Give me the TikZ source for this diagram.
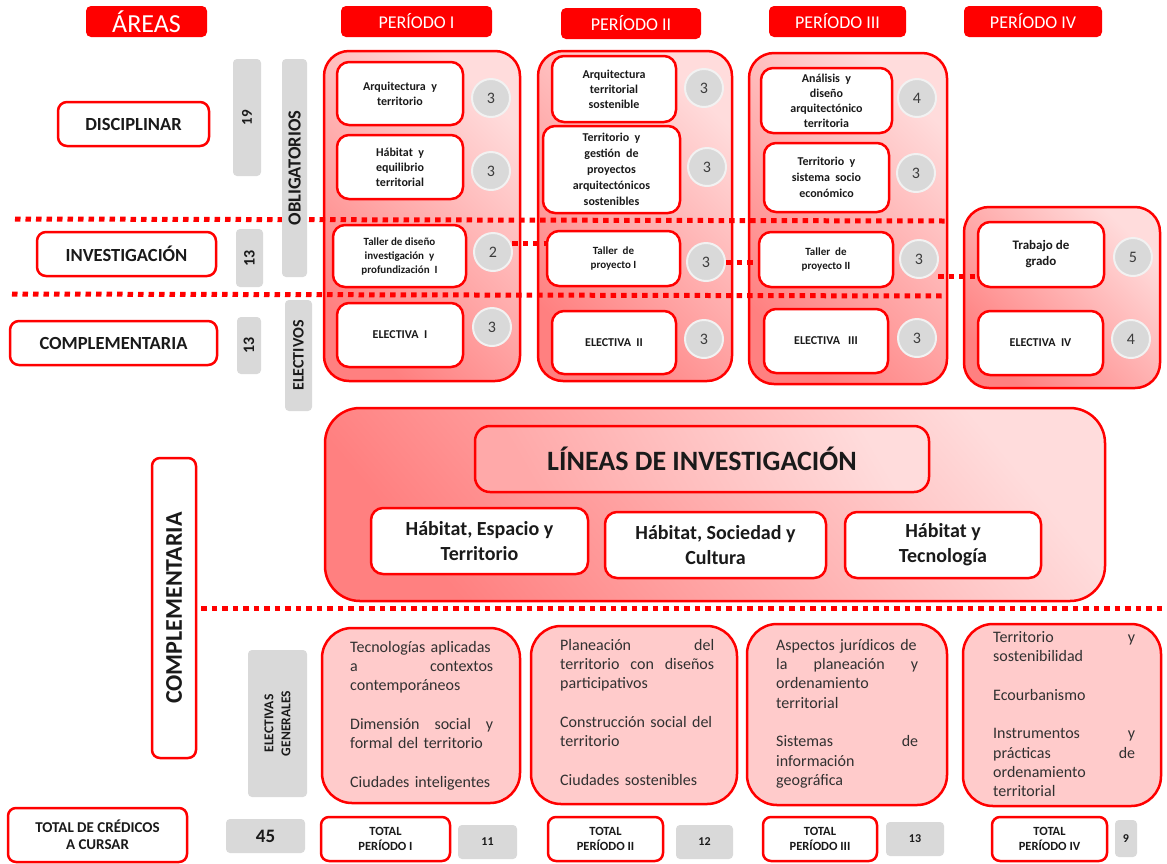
\documentclass[tikz,border=0pt]{standalone}
\usepackage{fontspec}
\setmainfont{Carlito}
\newcommand{\myfs}[2]{\fontsize{#1}{#2}\selectfont}
\definecolor{rd}{HTML}{FF0000}
\definecolor{gr}{HTML}{D9D9D9}
\definecolor{pkd}{HTML}{FF8080}
\definecolor{pkl}{HTML}{FFDCDC}
\definecolor{pkb}{HTML}{FFCBCB}
\definecolor{ink}{HTML}{1A1A1A}
\definecolor{ring}{HTML}{F2F2F2}
\tikzset{
  hdr/.style={fill=rd, rounded corners=5pt, text=white, inner sep=0pt, font=\myfs{18}{21}},
  lbl/.style={draw=rd, line width=2.5pt, fill=white, rounded corners=9pt, inner sep=0pt, text=ink, font=\bfseries\myfs{18.5}{22}},
  bar/.style={fill=gr, rounded corners=4pt, inner sep=0pt, text=ink, font=\bfseries\myfs{16}{19}},
  cont/.style={draw=rd, line width=2.5pt, rounded corners=25pt, left color=pkd, right color=pkl, shading angle=135},
  ibox/.style={draw=rd, line width=2.5pt, fill=white, rounded corners=12pt, align=center, inner sep=0pt, text=ink, font=\bfseries\myfs{12}{15}},
  num/.style={circle, fill=gr, draw=ring, line width=2pt, minimum size=38pt, inner sep=0pt, text=ink!85, font=\myfs{16}{19}},
  dotline/.style={draw=rd, line width=5pt, dash pattern=on 5.5pt off 5pt},
  hbox/.style={draw=rd, line width=2.5pt, fill=white, rounded corners=12pt, align=center, inner sep=0pt, text=ink, font=\bfseries\myfs{20}{25}},
  ebox/.style={draw=rd, line width=2.5pt, fill=pkb, rounded corners=30pt, inner sep=0pt},
  etxt/.style={anchor=north west, inner sep=0pt, align=left, text=ink!90, font=\myfs{16}{19.3}},
  tbox/.style={draw=rd, line width=2.5pt, fill=white, rounded corners=8pt, align=center, inner sep=0pt, text=ink, font=\bfseries\myfs{12.5}{15}},
  gbox/.style={fill=gr, rounded corners=4pt, inner sep=0pt, text=ink, font=\bfseries\myfs{12}{14}}
}
\begin{document}
\begin{tikzpicture}[x=1pt,y=-1pt]
\useasboundingbox (0,0) rectangle (1167,863);
\fill[white] (0,0) rectangle (1167,863);

% headers
\node[hdr, minimum width=121pt, minimum height=31pt, font=\myfs{26}{30}] (areas) at (146.5,21.5) {ÁREAS};
\node[hdr, minimum width=151pt, minimum height=31pt] (p1) at (416.5,21.5) {PERÍODO I};
\node[hdr, minimum width=140pt, minimum height=31pt] (p2) at (631,23.5) {PERÍODO II};
\node[hdr, minimum width=137pt, minimum height=31pt] (p3) at (837.5,21.5) {PERÍODO III};
\node[hdr, minimum width=138pt, minimum height=31pt] (p4) at (1033,21.5) {PERÍODO IV};

% period containers
\node[cont, minimum width=196pt, minimum height=330pt] (col1) at (422,216) {};
\node[cont, minimum width=194pt, minimum height=330pt] (col2) at (635,216) {};
\node[cont, minimum width=198pt, minimum height=331pt] (col3) at (848,218.5) {};
\node[cont, minimum width=196pt, minimum height=181pt] (col4) at (1062,297.5) {};

% dotted separators
\coordinate (l1a) at (15,219);
\coordinate (l1b) at (945,221);
\coordinate (l2a) at (12,294);
\coordinate (l2b) at (945,296);
\draw[dotline] (l1a) -- (l1b);
\draw[dotline] (l2a) -- (l2b);

% left area labels
\node[lbl, minimum width=151pt, minimum height=44pt] (disc) at (133.5,124) {DISCIPLINAR};
\node[lbl, minimum width=179pt, minimum height=44pt] (inv) at (126.5,254) {INVESTIGACIÓN};
\node[lbl, minimum width=207pt, minimum height=44pt] (comp) at (113.5,343) {COMPLEMENTARIA};

% gray bars
\node[bar, rotate=90, minimum width=117pt, minimum height=28pt, font=\bfseries\myfs{15}{18}] (b19) at (247,117.5) {19};
\node[bar, rotate=90, minimum width=58pt, minimum height=27pt] (b13a) at (249.5,258) {13};
\node[bar, rotate=90, minimum width=57pt, minimum height=24pt] (b13b) at (249,345.5) {13};
\node[bar, rotate=90, minimum width=218pt, minimum height=25pt, font=\bfseries\myfs{18.5}{21}] (obl) at (294.5,168) {OBLIGATORIOS};
\node[bar, rotate=90, minimum width=111pt, minimum height=27pt, font=\bfseries\myfs{16}{19}] (ele) at (298.5,355.5) {ELECTIVOS};

% short dotted links
\node[num] (n13) at (493,252) {2};
\node[num] (n23) at (706,262) {3};
\node[num] (n33) at (919,259) {3};
\coordinate (k1a) at (512,243);
\coordinate (k1b) at (548,243);
\coordinate (k3a) at (938,276);
\coordinate (k3b) at (982,276);
\draw[dotline] (k1a) -- (k1b);
\draw[dotline] (n23.east) -- ++(36,0);
\draw[dotline] (k3a) -- (k3b);

% column 1
\node[ibox, minimum width=126pt, minimum height=63pt] (a1) at (400,93.5) {Arquitectura\ \ y\\territorio};
\node[ibox, minimum width=126pt, minimum height=64pt] (a2) at (400,167) {Hábitat\ \ y\\equilibrio\\territorial};
\node[ibox, minimum width=133pt, minimum height=62pt, font=\bfseries\myfs{11}{14}] (a3) at (399.5,256) {Taller\ de\ diseño\\investigación\ \ y\\profundización\ \ I};
\node[ibox, minimum width=126pt, minimum height=64pt] (a4) at (400,335) {ELECTIVA\ \ I};
\node[num] (n11) at (491,98) {3};
\node[num] (n12) at (491,171) {3};
\node[num] (n14) at (492,327) {3};

% column 2
\node[ibox, minimum width=124pt, minimum height=66pt] (b1) at (614,89) {Arquitectura\\territorial\\sostenible};
\node[ibox, minimum width=137pt, minimum height=87pt, font=\bfseries\myfs{12}{16}] (b2) at (611.5,169.5) {Territorio\ \ y\\gestión\ \ de\\proyectos\\arquitectónicos\\sostenibles};
\node[ibox, minimum width=133pt, minimum height=55pt, font=\bfseries\myfs{11}{14.5}] (b3) at (613.5,258.5) {Taller\ \ de\\proyecto I};
\node[ibox, minimum width=124pt, minimum height=63pt] (b4) at (614,342.5) {ELECTIVA\ \ II};
\node[num] (n21) at (704,88) {3};
\node[num] (n22) at (707,167) {3};
\node[num] (n24) at (704,339) {3};

% column 3
\node[ibox, minimum width=131pt, minimum height=65pt] (c1) at (826.5,100.5) {Análisis\ \ y\\diseño\\arquitectónico\\territoria};
\node[ibox, minimum width=125pt, minimum height=69pt, font=\bfseries\myfs{12}{16}] (c2) at (826.5,177.5) {Territorio\ \ y\\sistema\ \ socio\\económico};
\node[ibox, minimum width=134pt, minimum height=55pt, font=\bfseries\myfs{11}{14.5}] (c3) at (826,259.5) {Taller\ \ de\\proyecto II};
\node[ibox, minimum width=124pt, minimum height=64pt] (c4) at (826,341) {ELECTIVA\ \ \ III};
\node[num] (n31) at (917,98) {4};
\node[num] (n32) at (916,173) {3};
\node[num] (n34) at (917,338) {3};

% column 4
\node[ibox, minimum width=126pt, minimum height=65pt, font=\bfseries\myfs{13}{16}] (d1) at (1041,254.5) {Trabajo de\\grado};
\node[ibox, minimum width=125pt, minimum height=64pt] (d2) at (1040.5,343) {ELECTIVA\ \ IV};
\node[num] (n41) at (1133,257) {5};
\node[num] (n42) at (1131,339) {4};

% research lines panel
\node[draw=rd, line width=2.5pt, rounded corners=35pt, left color=pkd, right color=pkl, shading angle=130, minimum width=780pt, minimum height=193pt] (lin) at (715,504.5) {};
\node[draw=rd, line width=2.5pt, rounded corners=15pt, left color=pkd!55!pkl, right color=pkl, shading angle=120, minimum width=454pt, minimum height=66pt, inner sep=0pt, text=ink, font=\bfseries\myfs{28}{32}] (lint) at (702,459) {LÍNEAS DE INVESTIGACIÓN};
\node[hbox, minimum width=217pt, minimum height=66pt] (h1) at (479.5,541) {Hábitat, Espacio y\\Territorio};
\node[hbox, minimum width=221pt, minimum height=66pt] (h2) at (715.5,545) {Hábitat, Sociedad y\\Cultura};
\node[hbox, minimum width=196pt, minimum height=66pt] (h3) at (943,545) {Hábitat y\\Tecnología};

% complementaria vertical
\node[lbl, rotate=90, rounded corners=8pt, minimum width=300pt, minimum height=44pt, font=\bfseries\myfs{24}{28}] (compv) at (174,608) {COMPLEMENTARIA};
\coordinate (l3b) at (1167,608);
\draw[dotline] (compv.south) ++(4,0) -- (l3b);
\node[bar, rotate=90, minimum width=147pt, minimum height=59pt, align=center, font=\bfseries\myfs{13.5}{17}] (eg) at (277.5,723.5) {ELECTIVAS\\GENERALES};

% general electives
\node[ebox, minimum width=198pt, minimum height=175pt] (e1) at (421,715.5) {};
\node[ebox, minimum width=206pt, minimum height=178pt] (e2) at (634,715) {};
\node[ebox, minimum width=200pt, minimum height=181pt] (e3) at (847,714.5) {};
\node[ebox, minimum width=198pt, minimum height=182pt] (e4) at (1062,715) {};
\node[etxt, text width=143pt] (e1t) at (350,641) {Tecnologías aplicadas\\a\hfill contextos\\contemporáneos\\[19.3pt]Dimensión\hfill social\hfill y\\formal del territorio\\[19.3pt]Ciudades inteligentes};
\node[etxt, text width=154pt] (e2t) at (560,639) {Planeación\hfill del\\territorio\hfill con\hfill diseños\\participativos\\[19.3pt]Construcción social del\\territorio\\[19.3pt]Ciudades sostenibles};
\node[etxt, text width=142pt] (e3t) at (776,639) {Aspectos jurídicos de\\la\hfill planeación\hfill y\\ordenamiento\\territorial\\[19.3pt]Sistemas\hfill de\\información\\geográfica};
\node[etxt, text width=142pt] (e4t) at (993,631) {Territorio\hfill y\\sostenibilidad\\[19.3pt]Ecourbanismo\\[19.3pt]Instrumentos\hfill y\\prácticas\hfill de\\ordenamiento\\territorial};

% totals
\node[tbox, minimum width=179pt, minimum height=54pt, font=\bfseries\myfs{15}{17}] (tot) at (97.5,835) {TOTAL DE CRÉDICOS\\A CURSAR};
\node[gbox, minimum width=79pt, minimum height=34pt, font=\bfseries\myfs{19}{22}] (g45) at (265.5,836) {45};
\node[tbox, minimum width=129pt, minimum height=44pt] (t1) at (385.5,839) {TOTAL\\PERÍODO I};
\node[gbox, minimum width=59pt, minimum height=34pt] (g11) at (487.5,842) {11};
\node[tbox, minimum width=115pt, minimum height=44pt] (t2) at (605.5,839) {TOTAL\\PERÍODO II};
\node[gbox, minimum width=57pt, minimum height=34pt] (g12) at (704.5,842) {12};
\node[tbox, minimum width=114pt, minimum height=44pt] (t3) at (820,839) {TOTAL\\PERÍODO III};
\node[gbox, minimum width=58pt, minimum height=34pt] (g13) at (915,839) {13};
\node[tbox, minimum width=115pt, minimum height=44pt] (t4) at (1049.5,839) {TOTAL\\PERÍODO IV};
\node[gbox, minimum width=22pt, minimum height=37pt] (g9) at (1126,838.5) {9};
\end{tikzpicture}
\end{document}
